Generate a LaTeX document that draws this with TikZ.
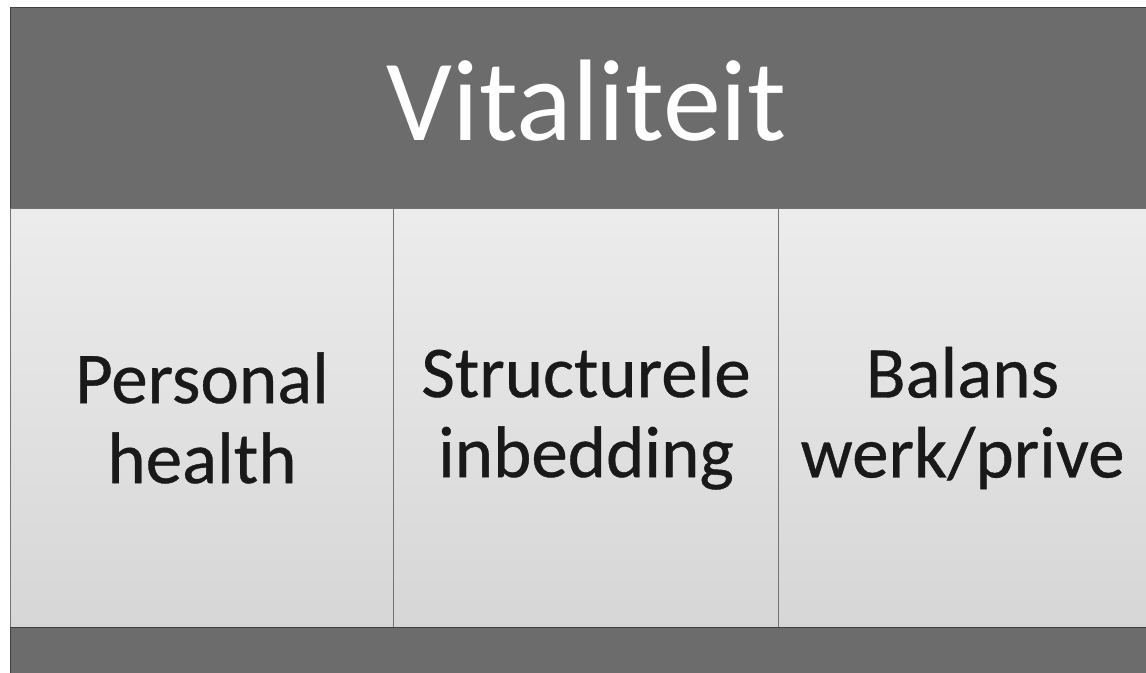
\documentclass[tikz,border=0pt]{standalone}
\usepackage{fontspec}
\setmainfont{Carlito}
\definecolor{bandgray}{HTML}{6C6C6C}
\definecolor{pillartop}{HTML}{ECECEC}
\definecolor{pillarbot}{HTML}{D6D6D6}
\begin{document}
\begin{tikzpicture}[x=0.5pt,y=-0.5pt,
  band/.style={fill=bandgray, draw=black!75, line width=0.6pt, inner sep=0pt, anchor=north west},
  pillar/.style={top color=pillartop, bottom color=pillarbot, draw=black!55, line width=0.5pt,
    inner sep=0pt, anchor=north west, minimum height=209.5pt, align=center,
    font=\fontsize{36.5}{40}\selectfont\addfontfeature{FakeBold=0.5}, text=black!90}]
  \useasboundingbox[fill=white] (0,0) rectangle (1146,673);
  \clip (0,0) rectangle (1146,673);
  % kop
  \node[band, minimum width=568pt, minimum height=100.5pt] (kop) at (10,7) {};
  \node[text=white, inner sep=0pt, font=\fontsize{58}{70}\selectfont]
    (titel) at ([xshift=4pt,yshift=3.5pt]kop.center) {Vitaliteit};
  % pijlers
  \node[pillar, minimum width=191.5pt] (health) at (10,208) {Personal\\health};
  \node[pillar, minimum width=192.5pt] (inbedding) at (393,208) {Structurele\\inbedding};
  \node[pillar, minimum width=184pt] (balans) at (778,208) {Balans\\werk/prive};
  % voet
  \node[band, minimum width=568pt, minimum height=30pt] (voet) at (10,627) {};
\end{tikzpicture}
\end{document}
